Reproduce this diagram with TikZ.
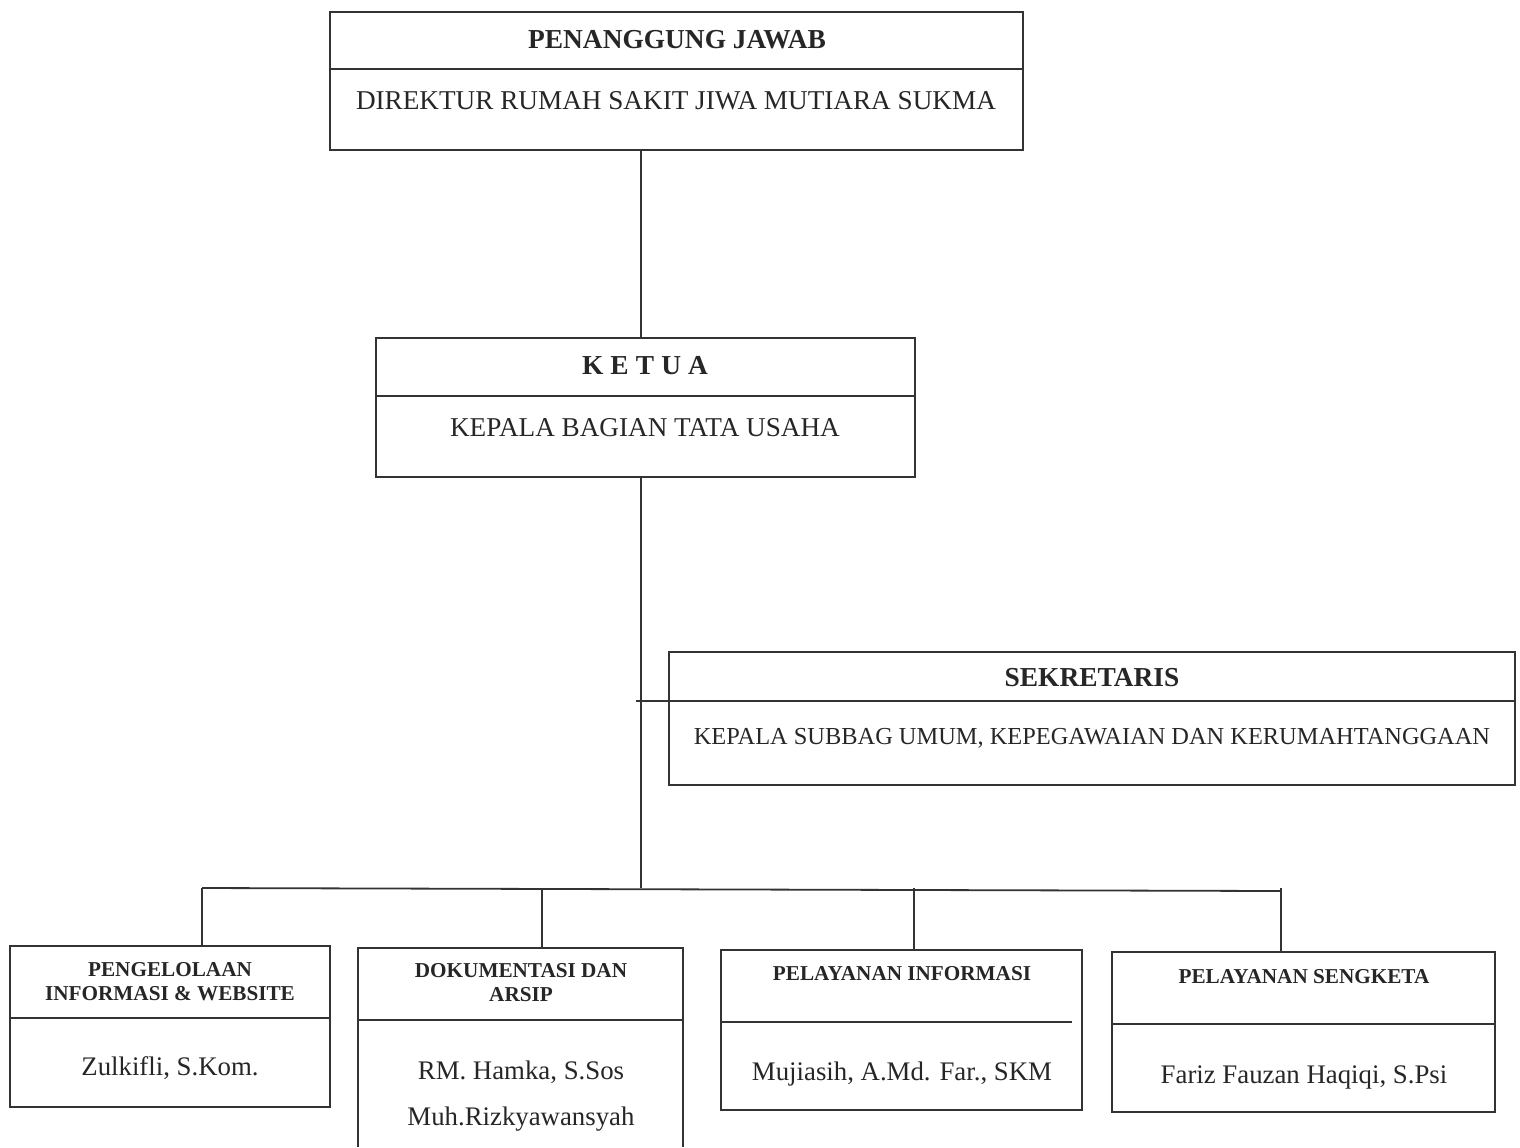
\documentclass[tikz,border=0pt]{standalone}
\usepackage{fontspec}
\setmainfont{Liberation Serif}
\colorlet{InkLine}{black!80}
\colorlet{InkText}{black!85}
\tikzset{
    frame/.style = {draw = InkLine, line width = 0.9pt},
    headtext/.style = {text = InkText, font = \fontsize{13.7}{16}\selectfont\bfseries},
    bodytext/.style = {text = InkText, font = \fontsize{13.6}{16}\selectfont},
    unithead/.style = {text = InkText, align = center, font = \fontsize{10.6}{12}\selectfont\bfseries},
    unitname/.style = {text = InkText, font = \fontsize{13.4}{15}\selectfont}
}

\begin{document}
\begin{tikzpicture}[x = 0.5pt, y = -0.5pt]

\useasboundingbox (0, 0) rectangle (1520, 1147);

% penanggung jawab
\coordinate (PJtl) at (330, 12);
\coordinate (PJbr) at (1023, 150);
\coordinate (PJs) at (641, 150);
\draw[frame] (PJtl) rectangle (PJbr);
\draw[frame] (330, 69) -- (1023, 69);
\node[headtext] (PJhead) at (677, 40) {PENANGGUNG JAWAB};
\node[bodytext] (PJbody) at (676, 101) {DIREKTUR RUMAH SAKIT JIWA MUTIARA SUKMA};

% ketua
\coordinate (KTtl) at (376, 338);
\coordinate (KTbr) at (915, 477);
\coordinate (KTn) at (641, 338);
\coordinate (KTs) at (641, 477);
\draw[frame] (KTtl) rectangle (KTbr);
\draw[frame] (376, 396) -- (915, 396);
\node[headtext] (KThead) at (645, 366) {K\hspace{0.26em}E\hspace{0.26em}T\hspace{0.26em}U\hspace{0.26em}A};
\node[bodytext] (KTbody) at (645, 428) {KEPALA BAGIAN TATA USAHA};

% sekretaris
\coordinate (SKtl) at (669, 652);
\coordinate (SKbr) at (1515, 785);
\coordinate (SKlink) at (636, 701);
\draw[frame] (SKtl) rectangle (SKbr);
\draw[frame] (SKlink) -- (1515, 701);
\node[headtext] (SKhead) at (1092, 678) {SEKRETARIS};
\node[bodytext, font = \fontsize{12.2}{15}\selectfont] (SKbody) at (1092, 738) {KEPALA SUBBAG UMUM, KEPEGAWAIAN DAN KERUMAHTANGGAAN};

% connectors
\coordinate (busL) at (202, 888);
\coordinate (busM) at (641, 888);
\coordinate (busR) at (1281, 891);
\draw[frame] (PJs) -- (KTn);
\draw[frame] (KTs) -- (busM);
\draw[frame] (busL) -- (busR);

% unit boxes
\draw[frame] (10, 946) rectangle (330, 1107);
\draw[frame] (10, 1018) -- (330, 1018);
\draw[frame] (358, 1147) -- (358, 948) -- (683, 948) -- (683, 1147);
\draw[frame] (358, 1020) -- (683, 1020);
\draw[frame] (721, 950) rectangle (1082, 1110);
\draw[frame] (721, 1022) -- (1072, 1022);
\draw[frame] (1112, 952) rectangle (1495, 1112);
\draw[frame] (1112, 1024) -- (1495, 1024);

\coordinate (U1top) at (202, 946);
\coordinate (U2top) at (542, 948);
\coordinate (U3top) at (914, 950);
\coordinate (U4top) at (1281, 952);
\foreach \u in {U1, U2, U3, U4}
    \draw[frame] (\u top) -- (\u top |- busL);

\node[unithead] (U1head) at (170, 982) {PENGELOLAAN\\INFORMASI \& WEBSITE};
\node[unitname] (U1name) at (170, 1068) {Zulkifli, S.Kom.};
\node[unithead] (U2head) at (521, 983) {DOKUMENTASI DAN\\ARSIP};
\node[unitname] (U2name) at (521, 1072) {RM. Hamka, S.Sos};
\node[unitname] (U2second) at (521, 1119) {Muh.Rizkyawansyah};
\node[unithead] (U3head) at (902, 974) {PELAYANAN INFORMASI};
\node[unitname] (U3name) at (902, 1074) {Mujiasih, A.Md. Far., SKM};
\node[unithead] (U4head) at (1304, 977) {PELAYANAN SENGKETA};
\node[unitname] (U4name) at (1304, 1077) {Fariz Fauzan Haqiqi, S.Psi};

\end{tikzpicture}
\end{document}
